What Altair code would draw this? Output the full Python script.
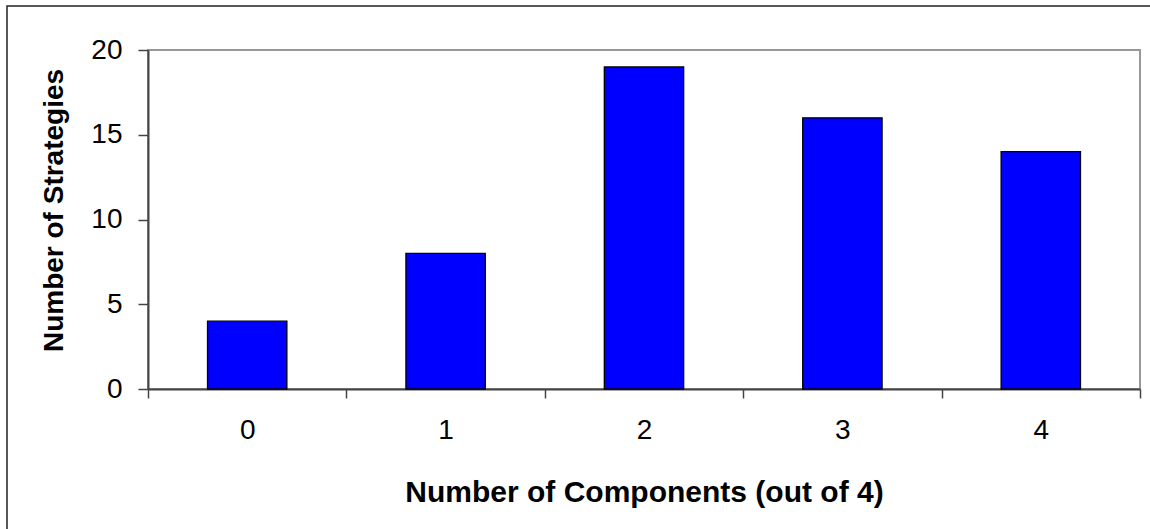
import altair as alt
import pandas as pd

categories = ["0", "1", "2", "3", "4"]
values = [4, 8, 19, 16, 14]

df = pd.DataFrame({"components": categories, "strategies": values})

FONT = "Liberation Sans"

bars = alt.Chart(df).mark_bar(
    color="#0000FF", stroke="#000000", strokeWidth=1.3,
    width=alt.RelativeBandSize(0.4),
).encode(
    x=alt.X(
        "components:N",
        sort=categories,
        scale=alt.Scale(paddingInner=0, paddingOuter=0),
        axis=alt.Axis(
            title="Number of Components (out of 4)",
            titleFontSize=30,
            labelAngle=0,
            tickBand="extent",
            tickSize=9,
            labelPadding=18,
            titlePadding=33,
        ),
    ),
    y=alt.Y(
        "strategies:Q",
        scale=alt.Scale(domain=[0, 20], nice=False),
        axis=alt.Axis(
            title="Number of Strategies",
            values=[0, 5, 10, 15, 20],
            tickSize=10,
            labelPadding=16,
            titlePadding=22,
            titleY=160,
            grid=False,
        ),
    ),
)

border = alt.Chart(pd.DataFrame({"a": [0]})).mark_rect(
    fill=None, stroke="#222222", strokeWidth=1.5
).encode(
    x=alt.value(-141), x2=alt.value(1020),
    y=alt.value(-44), y2=alt.value(500),
)

chart = alt.layer(border, bars).properties(
    width=992, height=339,
    autosize=alt.AutoSizeParams(type="none"),
    padding={"left": 148, "top": 50, "right": 10, "bottom": 140},
).configure_view(
    stroke="#999999", strokeWidth=2
).configure_axis(
    labelFont=FONT, titleFont=FONT,
    labelFontSize=28, titleFontSize=28,
    titleFontWeight="bold",
    labelColor="#000000", titleColor="#000000",
    domainColor="#444444", tickColor="#444444",
    domainWidth=2, tickWidth=1.5,
)

chart.save("out.html", embed_options={"renderer": "svg", "actions": False})
